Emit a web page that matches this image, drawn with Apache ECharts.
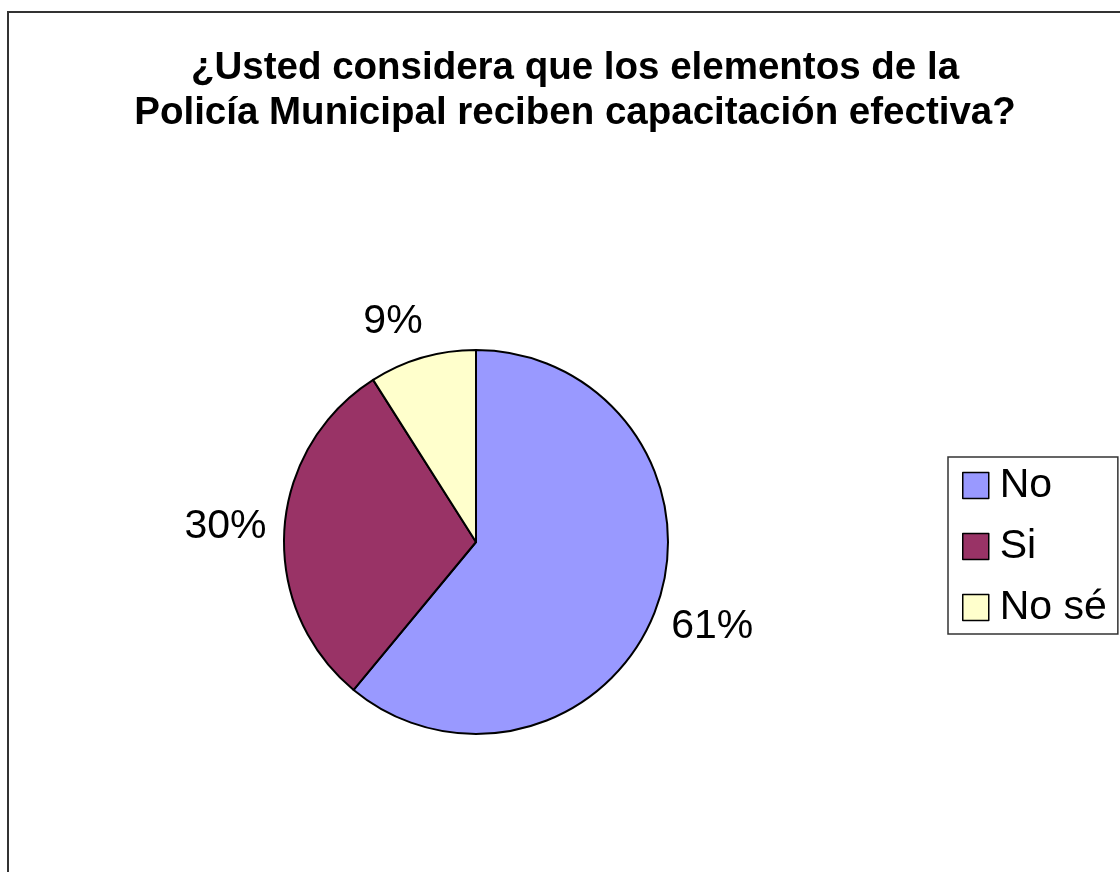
<!DOCTYPE html>
<html>
<head>
<meta charset="utf-8">
<script src="https://cdn.jsdelivr.net/npm/echarts@6/dist/echarts.min.js"></script>
<style>
  html, body { margin: 0; padding: 0; background: #fff; }
  #chart { width: 1120px; height: 872px; }
</style>
</head>
<body>
<div id="chart"></div>
<script>
// datos
const categories = ['No', 'Si', 'No sé'];
const percents = [61, 30, 9];
const colors = ['#9999FF', '#993366', '#FFFFCC'];
const titleText = '¿Usted considera que los elementos de la\nPolicía Municipal reciben capacitación efectiva?';

const chart = echarts.init(document.getElementById('chart'));

const pieData = categories.map((name, i) => ({
  name: name,
  value: percents[i],
  itemStyle: { color: colors[i] }
}));

const option = {
  backgroundColor: '#fff',
  animation: false,
  textStyle: { fontFamily: 'Liberation Sans, Arial, sans-serif' },
  title: {
    text: titleText,
    left: 570,
    top: 41,
    textAlign: 'center',
    textStyle: {
      fontSize: 38.5,
      fontWeight: 'bold',
      color: '#000',
      lineHeight: 45,
      fontFamily: 'Liberation Sans, Arial, sans-serif'
    }
  },
  graphic: [{
    type: 'rect',
    shape: { x: 8, y: 12, width: 1300, height: 1000 },
    style: { fill: 'none', stroke: '#333', lineWidth: 2 },
    silent: true,
    z: -10
  }],
  legend: {
    orient: 'vertical',
    left: 948,
    top: 457,
    data: categories,
    icon: 'rect',
    itemWidth: 26,
    itemHeight: 26,
    itemGap: 20,
    padding: [8, 11, 6, 14],
    borderColor: '#333',
    borderWidth: 1.5,
    selectedMode: false,
    itemStyle: { borderColor: '#000', borderWidth: 1.5 },
    textStyle: {
      fontSize: 41,
      color: '#000',
      padding: [0, 0, 0, 6],
      fontFamily: 'Liberation Sans, Arial, sans-serif'
    }
  },
  series: [
    {
      type: 'pie',
      center: [476, 542],
      radius: 192,
      startAngle: 90,
      clockwise: true,
      avoidLabelOverlap: false,
      label: { show: false },
      labelLine: { show: false },
      emphasis: { disabled: true },
      itemStyle: { borderColor: '#000', borderWidth: 2 },
      data: pieData
    },
    {
      // anillo invisible solo para colocar las etiquetas de porcentaje
      type: 'pie',
      center: [476, 542],
      radius: [192, 304],
      startAngle: 90,
      clockwise: true,
      silent: true,
      legendHoverLink: false,
      avoidLabelOverlap: false,
      emphasis: { disabled: true },
      itemStyle: { color: 'rgba(0,0,0,0)', borderWidth: 0 },
      label: {
        show: true,
        position: 'inside',
        formatter: '{c}%',
        fontSize: 41,
        color: '#000',
        fontFamily: 'Liberation Sans, Arial, sans-serif'
      },
      labelLine: { show: false },
      data: pieData.map((d, i) => ({
        name: d.name,
        value: d.value,
        // la etiqueta pequeña queda algo más cerca en el original
        label: i === 2 ? { offset: [-13, 21] } : undefined
      }))
    }
  ]
};

chart.setOption(option);
window.addEventListener('resize', function () {
  chart.resize();
});
</script>
</body>
</html>
